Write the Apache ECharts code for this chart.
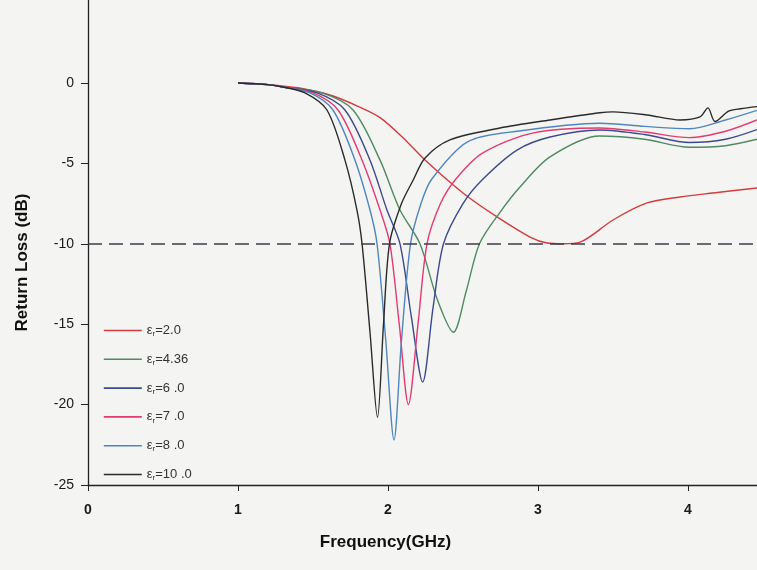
<!DOCTYPE html>
<html><head><meta charset="utf-8">
<script src="https://cdn.jsdelivr.net/npm/echarts@6/dist/echarts.min.js"></script>
<style>html,body{margin:0;padding:0;background:#f4f4f2}#c{width:757px;height:570px}</style>
</head><body><div id="c"></div>
<script>
// ---- data ----
const seriesNames = ['εr=2.0', 'εr=4.36', 'εr=6 .0', 'εr=7 .0', 'εr=8 .0', 'εr=10 .0'];
const xTicks = [0, 1, 2, 3, 4];
const yTicks = [-25, -20, -15, -10, -5, 0];
const threshold = -10;

const f2_0 = [1.0, 1.2, 1.4, 1.613, 1.8, 1.947, 2.1, 2.247, 2.5, 2.727, 2.947, 3.06, 3.167, 3.28, 3.5, 3.727, 3.947, 4.167, 4.46];
const l2_0 = [0, -0.1, -0.3, -0.75, -1.45, -2.15, -3.4, -4.79, -6.84, -8.33, -9.58, -9.95, -10.0, -9.9, -8.52, -7.46, -7.09, -6.84, -6.53];

const f4_36 = [1.0, 1.2, 1.3, 1.56, 1.767, 1.947, 2.08, 2.213, 2.33, 2.436, 2.52, 2.61, 2.75, 2.88, 3.08, 3.41, 3.71, 4.01, 4.25, 4.46];
const l4_36 = [0, -0.1, -0.25, -0.62, -1.68, -4.8, -7.9, -10, -13.5, -15.5, -13, -10, -8, -6.47, -4.6, -3.3, -3.5, -4.0, -3.9, -3.5];

const f6_0 = [1.0, 1.2, 1.3, 1.527, 1.713, 1.88, 1.993, 2.08, 2.155, 2.231, 2.3, 2.37, 2.5, 2.63, 2.86, 3.08, 3.41, 3.71, 4.01, 4.25, 4.46];
const l6_0 = [0, -0.1, -0.25, -0.62, -1.68, -4.8, -7.9, -10, -14.5, -18.6, -14, -10, -7.5, -6.0, -4.17, -3.36, -2.92, -3.2, -3.7, -3.5, -2.9];

const f7_0 = [1.0, 1.2, 1.3, 1.5, 1.667, 1.827, 1.947, 2.013, 2.075, 2.136, 2.2, 2.26, 2.35, 2.45, 2.63, 2.97, 3.41, 3.71, 4.01, 4.25, 4.46];
const l7_0 = [0, -0.1, -0.25, -0.62, -1.68, -4.8, -7.9, -10, -15, -20.0, -15, -10, -7.5, -6, -4.36, -3.1, -2.8, -3.05, -3.4, -3.0, -2.3];

const f8_0 = [1.0, 1.2, 1.3, 1.48, 1.633, 1.78, 1.88, 1.927, 1.985, 2.04, 2.09, 2.15, 2.22, 2.29, 2.53, 2.86, 3.41, 3.71, 4.01, 4.25, 4.46];
const l8_0 = [0, -0.1, -0.25, -0.62, -1.68, -4.8, -7.9, -10, -16, -22.2, -16, -10, -7.5, -6, -3.66, -3.0, -2.5, -2.7, -2.85, -2.3, -1.7];

const f10_0 = [1.0, 1.2, 1.3, 1.447, 1.593, 1.713, 1.793, 1.827, 1.88, 1.93, 1.97, 2.01, 2.09, 2.17, 2.247, 2.413, 2.747, 3.08, 3.413, 3.5, 3.727, 3.947, 4.08, 4.133, 4.18, 4.27, 4.35, 4.46];
const l10_0 = [0, -0.1, -0.25, -0.62, -1.68, -4.8, -7.9, -10, -15.5, -20.8, -15, -10, -7.5, -6, -4.66, -3.54, -2.8, -2.3, -1.85, -1.8, -1.99, -2.3, -2.11, -1.55, -2.4, -1.75, -1.6, -1.47];

const freqs = [f2_0, f4_36, f6_0, f7_0, f8_0, f10_0];
const losses = [l2_0, l4_36, l6_0, l7_0, l8_0, l10_0];
const colors = ['#d23c3c', '#4f8a62', '#3c4a8c', '#e23a72', '#4f86bd', '#2a2a2a'];

// ---- chart ----
const chart = echarts.init(document.getElementById('c'), null, {renderer: 'canvas'});
const zip = (a, b) => a.map((v, i) => [v, b[i]]);
const series = seriesNames.map((n, i) => ({
  name: n, type: 'line', data: zip(freqs[i], losses[i]),
  symbol: 'none', smooth: 0.3,
  lineStyle: {color: colors[i], width: 1.4}, itemStyle: {color: colors[i]},
  z: 3
}));
series[0].markLine = {
  silent: true, symbol: 'none', label: {show: false},
  lineStyle: {color: '#3a3c4c', width: 1.5, type: [14, 7]},
  data: [{yAxis: threshold}]
};
const base = {fontFamily: 'Liberation Sans, Arial, sans-serif'};
chart.setOption({
  backgroundColor: '#f4f4f2',
  animation: false,
  color: colors,
  grid: {left: 88, right: 0, top: 0, bottom: 85, outerBoundsMode: 'none'},
  xAxis: {
    type: 'value', min: 0, max: 4.46,
    name: 'Frequency(GHz)', nameLocation: 'middle', nameGap: 49,
    nameTextStyle: Object.assign({fontSize: 17, fontWeight: 'bold', color: '#111', padding: [0, 74, 0, 0]}, base),
    axisLine: {show: true, onZero: false, lineStyle: {color: '#222', width: 1.3}},
    axisTick: {show: true, length: 6, customValues: xTicks, lineStyle: {color: '#222'}},
    axisLabel: Object.assign({customValues: xTicks, margin: 18, fontSize: 14, fontWeight: 'bold', color: '#1a1a1a'}, base),
    splitLine: {show: false}
  },
  yAxis: {
    type: 'value', min: -25, max: 5.16,
    name: 'Return Loss (dB)', nameLocation: 'middle', nameGap: 57, nameRotate: 90,
    nameTextStyle: Object.assign({fontSize: 17, fontWeight: 'bold', color: '#111', padding: [0, 40, 0, 0]}, base),
    axisLine: {show: true, onZero: false, lineStyle: {color: '#222', width: 1.3}},
    axisTick: {show: true, length: 7, customValues: yTicks, lineStyle: {color: '#222'}},
    axisLabel: Object.assign({customValues: yTicks, margin: 14, fontSize: 14, color: '#1a1a1a'}, base),
    splitLine: {show: false}
  },
  legend: {
    orient: 'vertical', left: 98, top: 319, itemWidth: 38, itemHeight: 14, itemGap: 14.8,
    data: seriesNames,
    itemStyle: {opacity: 0},
    lineStyle: {width: 1.6},
    formatter: n => '{e|ε}{s|r}{t|' + n.slice(2) + '}',
    textStyle: Object.assign({color: '#333', fontSize: 13, rich: {
      e: {fontSize: 13, color: '#333'},
      s: {fontSize: 8, color: '#333', padding: [7, 0, 0, 0]},
      t: {fontSize: 13, color: '#333'}
    }}, base)
  },
  series: series
});
</script></body></html>
